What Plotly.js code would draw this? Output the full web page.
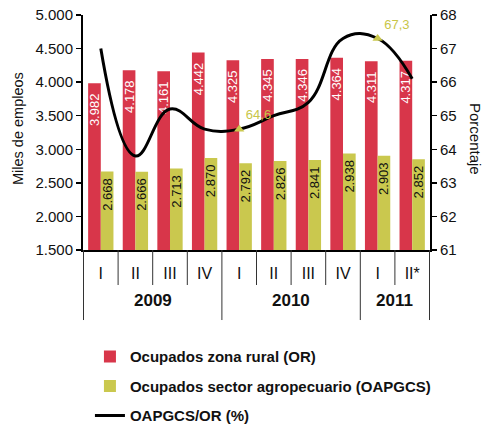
<!DOCTYPE html>
<html>
<head>
<meta charset="utf-8">
<script src="https://cdn.plot.ly/plotly-3.0.1.min.js"></script>
<style>html,body{margin:0;padding:0;background:#fff;}#chart{width:483px;height:427px;}</style>
</head>
<body>
<div id="chart"></div>
<script>
// ---- data ----
const years = ['2009','2009','2009','2009','2010','2010','2010','2010','2011','2011'];
const quarters = ['I','II','III','IV','I','II','III','IV','I','II*'];
const ocupadosRural = [3982, 4178, 4161, 4442, 4325, 4345, 4346, 4364, 4311, 4317];
const ocupadosAgro = [2668, 2666, 2713, 2870, 2792, 2826, 2841, 2938, 2903, 2852];
const ratioPct = [67.0, 63.8, 65.2, 64.6, 64.6, 65.0, 65.4, 67.3, 67.3, 66.1];
const labeledIdx = [4, 8];
const seriesNames = ['Ocupados zona rural (OR)', 'Ocupados sector agropecuario (OAPGCS)', 'OAPGCS/OR (%)'];
const yAxisTitle = 'Miles de empleos';
const y2AxisTitle = 'Porcentaje';

// ---- build ----
const RED = '#D8364A';
const YEL = '#CAC84E';
const xcats = years.map((y, i) => y + ' ' + quarters[i]);

const traces = [
  {
    type: 'bar', name: seriesNames[0], x: xcats, y: ocupadosRural,
    marker: {color: RED}, legendgroup: 'a',
    texttemplate: '%{y:,d}\u00a0\u00a0', textposition: 'inside', insidetextanchor: 'end',
    textangle: -90, constraintext: 'none',
    textfont: {color: '#ffffff', size: 13, family: 'Liberation Sans, Arial, sans-serif'},
    hoverinfo: 'none'
  },
  {
    type: 'bar', name: seriesNames[1], x: xcats, y: ocupadosAgro,
    marker: {color: YEL}, legendgroup: 'b',
    texttemplate: '%{y:,d}\u00a0', textposition: 'inside', insidetextanchor: 'end',
    textangle: -90, constraintext: 'none',
    textfont: {color: '#111111', size: 13, family: 'Liberation Sans, Arial, sans-serif'},
    hoverinfo: 'none'
  },
  {
    type: 'scatter', mode: 'lines', name: seriesNames[2], x: xcats, y: ratioPct, yaxis: 'y2',
    line: {color: '#000000', width: 3, shape: 'spline', smoothing: 1.2}, legendgroup: 'c',
    hoverinfo: 'none'
  },
  {
    type: 'scatter', mode: 'markers+text', showlegend: false, yaxis: 'y2',
    x: labeledIdx.map(i => xcats[i]), y: labeledIdx.map(i => ratioPct[i]),
    marker: {symbol: 'triangle-up', size: 9, color: YEL},
    texttemplate: '%{y:.1f}', textposition: 'top right',
    textfont: {color: '#C8C648', size: 13, family: 'Liberation Sans, Arial, sans-serif'},
    hoverinfo: 'none'
  }
];

// dividers under the x axis
const shapes = [];
for (let b = 0; b <= xcats.length; b++) {
  const isYearEdge = b === 0 || b === xcats.length || years[b] !== years[b - 1];
  shapes.push({
    type: 'line', xref: 'x', yref: 'paper',
    x0: b - 0.5, x1: b - 0.5, y0: 0, y1: isYearEdge ? -0.298 : -0.149,
    line: {color: '#333333', width: 1}
  });
}

const annotations = [];
const uniqueYears = [...new Set(years)];
uniqueYears.forEach(y => {
  const idx = years.map((v, i) => v === y ? i : -1).filter(i => i >= 0);
  const mid = (idx[0] + idx[idx.length - 1]) / 2;
  annotations.push({
    xref: 'x', yref: 'paper', x: mid, y: -0.213, text: '<b>' + y + '</b>',
    showarrow: false, xanchor: 'center', yanchor: 'middle',
    font: {size: 17, color: '#111111', family: 'Liberation Sans, Arial, sans-serif'}
  });
});
annotations.push({
  xref: 'paper', yref: 'paper', x: 0, y: 0.5, xshift: -65.5, yshift: 4,
  text: yAxisTitle, textangle: -90, showarrow: false, xanchor: 'center', yanchor: 'middle',
  font: {size: 14.5, color: '#111111'}
});
annotations.push({
  xref: 'paper', yref: 'paper', x: 1, y: 0.5, xshift: 46, yshift: -6.5,
  text: y2AxisTitle, textangle: 90, showarrow: false, xanchor: 'center', yanchor: 'middle',
  font: {size: 15, color: '#111111'}
});

const layout = {
  width: 483, height: 427,
  margin: {l: 83, r: 53, t: 15, b: 177, pad: 0, autoexpand: false},
  paper_bgcolor: '#ffffff', plot_bgcolor: '#ffffff',
  separators: ',.',
  font: {family: 'Liberation Sans, Arial, sans-serif', color: '#111111', size: 15},
  barmode: 'group', bargap: 0.268, bargroupgap: 0,
  showlegend: true,
  legend: {
    x: 0.02, y: 0.203, xanchor: 'left', yanchor: 'top', yref: 'container', orientation: 'v',
    font: {size: 15, color: '#111111', family: 'Liberation Sans, Arial, sans-serif', weight: 'bold'},
    tracegroupgap: 7, bgcolor: 'rgba(0,0,0,0)'
  },
  xaxis: {
    type: 'category', tickvals: xcats, ticktext: quarters,
    showline: true, linecolor: '#000000', linewidth: 2, ticks: '', showgrid: false,
    tickfont: {size: 16, color: '#111111'}, ticklabelstandoff: 8, fixedrange: true
  },
  yaxis: {
    range: [1500, 5000], dtick: 500, tick0: 1500, tickformat: ',d',
    showline: true, linecolor: '#000000', linewidth: 2, ticks: 'outside', ticklen: 5,
    tickwidth: 1.5, tickcolor: '#000000', showgrid: false, zeroline: false,
    tickfont: {size: 15, color: '#111111'}
  },
  yaxis2: {
    overlaying: 'y', side: 'right', range: [61, 68], dtick: 1, tick0: 61,
    showline: true, linecolor: '#000000', linewidth: 2, ticks: 'outside', ticklen: 5,
    tickwidth: 1.5, tickcolor: '#000000', showgrid: false, zeroline: false,
    tickfont: {size: 15, color: '#111111'}
  },
  shapes: shapes,
  annotations: annotations
};

Plotly.newPlot('chart', traces, layout, {displayModeBar: false, staticPlot: true});
</script>
</body>
</html>
